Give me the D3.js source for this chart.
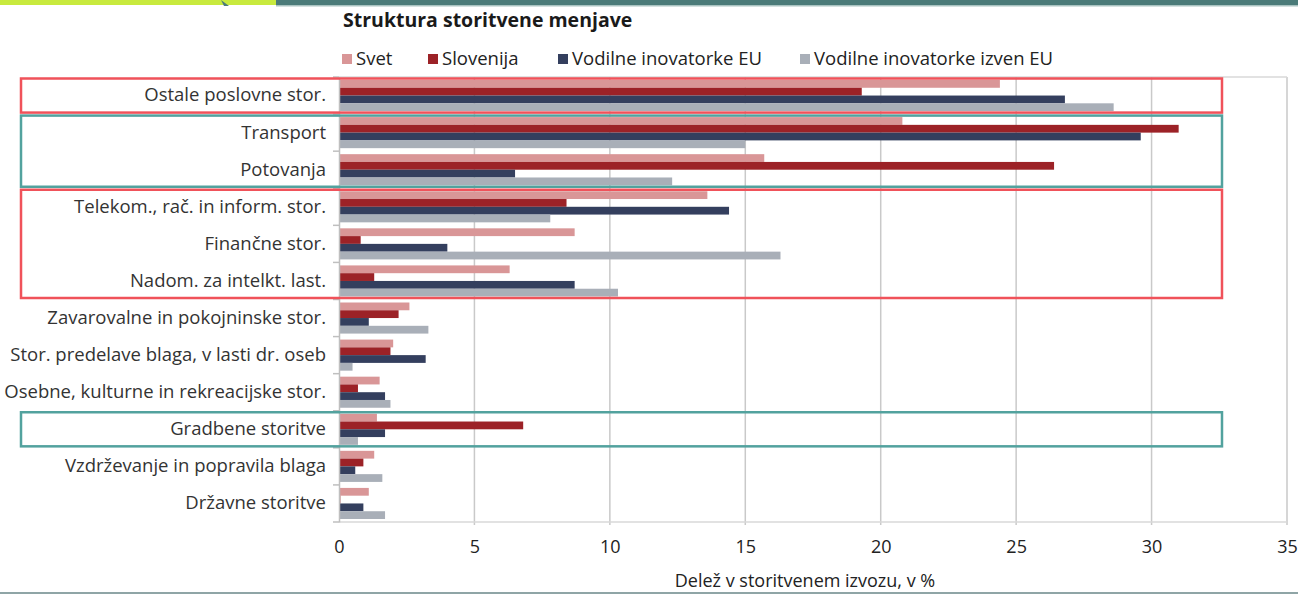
<!DOCTYPE html>
<html>
<head>
<meta charset="utf-8">
<script src="https://cdn.jsdelivr.net/npm/d3@7"></script>
<style>
  body { margin: 0; background: #fff; }
  text { font-family: "Open Sans", sans-serif; }
</style>
</head>
<body>
<div id="chart"></div>
<script>
// data
var categories = ["Ostale poslovne stor.", "Transport", "Potovanja", "Telekom., rač. in inform. stor.",
  "Finančne stor.", "Nadom. za intelkt. last.", "Zavarovalne in pokojninske stor.",
  "Stor. predelave blaga, v lasti dr. oseb", "Osebne, kulturne in rekreacijske stor.",
  "Gradbene storitve", "Vzdrževanje in popravila blaga", "Državne storitve"];
var seriesNames = ["Svet", "Slovenija", "Vodilne inovatorke EU", "Vodilne inovatorke izven EU"];
var svet =      [24.4, 20.8, 15.7, 13.6, 8.7, 6.3, 2.6, 2.0, 1.5, 1.4, 1.3, 1.1];
var slovenija = [19.3, 31.0, 26.4, 8.4, 0.8, 1.3, 2.2, 1.9, 0.7, 6.8, 0.9, 0.05];
var vodilneEU = [26.8, 29.6, 6.5, 14.4, 4.0, 8.7, 1.1, 3.2, 1.7, 1.7, 0.6, 0.9];
var vodilneIzven = [28.6, 15.0, 12.3, 7.8, 16.3, 10.3, 3.3, 0.5, 1.9, 0.7, 1.6, 1.7];
var xTicks = [0, 5, 10, 15, 20, 25, 30, 35];
// highlighted groups: first category, last category, colour
var boxes = [
  ["Ostale poslovne stor.", "Ostale poslovne stor.", "#f0525a"],
  ["Transport", "Potovanja", "#52a29e"],
  ["Telekom., rač. in inform. stor.", "Nadom. za intelkt. last.", "#f0525a"],
  ["Gradbene storitve", "Gradbene storitve", "#52a29e"]
];
var colors = ["#d99697", "#9c2227", "#343f5e", "#a9afb8"];

var width = 1298, height = 594;
var allSeries = [svet, slovenija, vodilneEU, vodilneIzven];

var svg = d3.select("#chart").append("svg")
  .attr("width", width).attr("height", height);

// top strip
svg.append("rect").attr("x", 0).attr("y", 0).attr("width", 276).attr("height", 5).attr("fill", "#c8ea3e");
svg.append("rect").attr("x", 276).attr("y", 0).attr("width", width - 276).attr("height", 5).attr("fill", "#4b7b79");
svg.append("rect").attr("x", 276).attr("y", 5).attr("width", width - 276).attr("height", 1.5).attr("fill", "#a9c3c1");
svg.append("path").attr("d", "M221,0 L229,6 L224,6 Z").attr("fill", "#4b7b79");
// bottom strip
svg.append("rect").attr("x", 0).attr("y", 592).attr("width", width).attr("height", 2).attr("fill", "#8fa5a6");

var x = d3.scaleLinear().domain([0, 35]).range([339, 1287]);
var y = d3.scaleBand().domain(categories).range([77, 522]).padding(0);
var y1 = d3.scaleBand().domain(seriesNames).range([3, y.bandwidth() - 3]);

// title
svg.append("text").attr("x", 343).attr("y", 27)
  .attr("font-size", 19.5).attr("font-weight", 700)
  .attr("fill", "#1a1a1a").text("Struktura storitvene menjave");

// legend
var legendX = [342, 428, 558, 800];
var legend = svg.selectAll(".legend").data(seriesNames).enter().append("g")
  .attr("transform", function(d, i) { return "translate(" + legendX[i] + ",59)"; });
legend.append("rect").attr("x", 0).attr("y", -5).attr("width", 10).attr("height", 10)
  .attr("fill", function(d, i) { return colors[i]; });
legend.append("text").attr("x", 14).attr("dy", "0.35em").attr("font-size", 18.5)
  .attr("fill", "#222").text(function(d) { return d; });

// gridlines
svg.append("g").selectAll("line").data(xTicks.slice(1)).enter().append("line")
  .attr("x1", function(d) { return x(d); }).attr("x2", function(d) { return x(d); })
  .attr("y1", 77).attr("y2", 525)
  .attr("stroke", "#c9c9c9").attr("stroke-width", 1.5);
svg.append("line").attr("x1", 339).attr("x2", 1287).attr("y1", 77).attr("y2", 77)
  .attr("stroke", "#d9d9d9").attr("stroke-width", 1.5);
svg.append("line").attr("x1", 339).attr("x2", 1287).attr("y1", 522).attr("y2", 522)
  .attr("stroke", "#d9d9d9").attr("stroke-width", 1.5);

// bars
categories.forEach(function(c, ci) {
  seriesNames.forEach(function(s, si) {
    svg.append("rect")
      .attr("x", x(0))
      .attr("y", y(c) + y1(s))
      .attr("width", x(allSeries[si][ci]) - x(0))
      .attr("height", y1.bandwidth())
      .attr("fill", colors[si]);
  });
});

// y axis
var yAxis = svg.append("g").attr("transform", "translate(339,0)")
  .call(d3.axisLeft(y).tickSize(0).tickPadding(13));
yAxis.select(".domain").attr("stroke", "#bfbfbf").attr("stroke-width", 1.5);
yAxis.selectAll("text").attr("font-size", 18.5).attr("fill", "#333")
  .style("font-family", "'Open Sans', sans-serif");
svg.append("g").selectAll("line").data(categories.concat(["end"])).enter().append("line")
  .attr("x1", 333).attr("x2", 339)
  .attr("y1", function(d, i) { return 77 + i * y.step(); })
  .attr("y2", function(d, i) { return 77 + i * y.step(); })
  .attr("stroke", "#bfbfbf").attr("stroke-width", 1.5);

// x axis labels
var xAxis = svg.append("g").attr("transform", "translate(0,522)")
  .call(d3.axisBottom(x).tickValues(xTicks).tickSize(0).tickPadding(18));
xAxis.select(".domain").remove();
xAxis.selectAll("text").attr("font-size", 18).attr("fill", "#222")
  .style("font-family", "'Open Sans', sans-serif");

svg.append("text").attr("x", 805).attr("y", 587).attr("text-anchor", "middle")
  .attr("font-size", 18).attr("fill", "#222").text("Delež v storitvenem izvozu, v %");

// highlight boxes
svg.append("g").selectAll("rect").data(boxes).enter().append("rect")
  .attr("x", 21)
  .attr("y", function(d) { return y(d[0]) + 1.5; })
  .attr("width", function() { return x(32.6) - 21; })
  .attr("height", function(d) { return y(d[1]) + y.step() - y(d[0]) - 3; })
  .attr("fill", "none")
  .attr("stroke", function(d) { return d[2]; })
  .attr("stroke-width", 2.5);
</script>
</body>
</html>
